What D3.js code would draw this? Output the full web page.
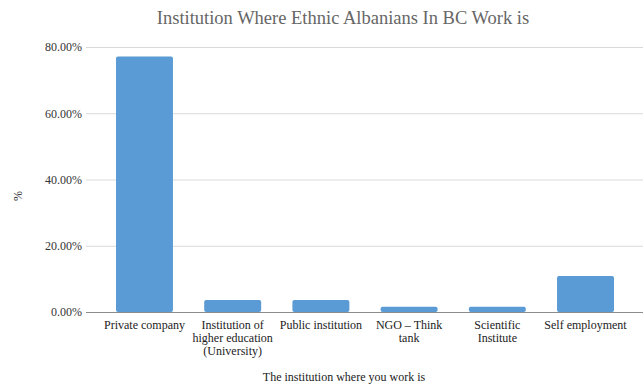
<!DOCTYPE html>
<html>
<head>
<meta charset="utf-8">
<script src="https://cdn.jsdelivr.net/npm/d3@7"></script>
<style>
  html, body { margin: 0; padding: 0; background: #fff; }
  svg { display: block; }
</style>
</head>
<body>
<svg id="chart" width="643" height="386"></svg>
<script>
// Share of respondents by type of workplace
const categories = [
  ["Private company"],
  ["Institution of", "higher education", "(University)"],
  ["Public institution"],
  ["NGO – Think", "tank"],
  ["Scientific", "Institute"],
  ["Self employment"]
];
const values = [0.771, 0.036, 0.036, 0.016, 0.016, 0.109];
const yTicks = [0, 0.2, 0.4, 0.6, 0.8];
const chartTitle = "Institution Where Ethnic Albanians In BC Work is";
const xTitle = "The institution where you work is";
const yTitle = "%";

const SERIF = "'Liberation Serif', 'Times New Roman', Times, 'DejaVu Serif', serif";

const svg = d3.select("#chart");
const W = 643, H = 386;
const m = { left: 86, right: 0, top: 47, bottom: 74 };

const keys = categories.map(c => c.join(" "));

const x = d3.scaleBand()
  .domain(keys)
  .range([m.left, W + 1])
  .paddingInner(0.354)
  .paddingOuter(0.34);

const y = d3.scaleLinear()
  .domain([0, 0.8])
  .range([H - m.bottom, m.top]);

// gridlines and tick labels
const yAxis = d3.axisLeft(y)
  .tickValues(yTicks)
  .tickSize(-(W - m.left))
  .tickPadding(5)
  .tickFormat(d3.format(".2%"));

const gy = svg.append("g")
  .attr("transform", `translate(${m.left},0)`)
  .call(yAxis)
  .attr("font-family", SERIF);
gy.select(".domain").remove();
gy.selectAll(".tick line").attr("stroke", "#d9d9d9").attr("stroke-width", 1);
gy.selectAll(".tick text")
  .style("font-family", SERIF)
  .attr("fill", "#333")
  .attr("font-size", 12)
  .attr("x", -4);

// bars
svg.append("g").selectAll("rect")
  .data(values)
  .join("rect")
  .attr("x", (d, i) => x(keys[i]))
  .attr("width", x.bandwidth())
  .attr("y", d => y(d))
  .attr("height", d => y(0) - y(d))
  .attr("rx", 2)
  .attr("fill", "#5b9bd5");

// baseline
svg.append("line")
  .attr("x1", m.left).attr("x2", W)
  .attr("y1", y(0) + 0.5).attr("y2", y(0) + 0.5)
  .attr("stroke", "#8c8c8c")
  .attr("stroke-width", 1.2);

// category labels
const labels = svg.append("g").selectAll("text")
  .data(categories)
  .join("text")
  .style("font-family", SERIF)
  .attr("x", (d, i) => x(keys[i]) + x.bandwidth() / 2)
  .attr("y", y(0) + 17)
  .attr("text-anchor", "middle")
  .attr("font-size", 12)
  .attr("fill", "#222");
labels.selectAll("tspan")
  .data(d => d)
  .join("tspan")
  .attr("x", function () { return d3.select(this.parentNode).attr("x"); })
  .attr("dy", (d, i) => i === 0 ? 0 : 13)
  .text(d => d);

// titles
svg.append("text")
  .style("font-family", SERIF)
  .attr("x", 343).attr("y", 24)
  .attr("text-anchor", "middle")
  .attr("font-size", 18.5)
  .attr("fill", "#666")
  .text(chartTitle);

svg.append("text")
  .style("font-family", SERIF)
  .attr("x", 344).attr("y", 381)
  .attr("text-anchor", "middle")
  .attr("font-size", 12)
  .attr("fill", "#222")
  .text(xTitle);

svg.append("text")
  .style("font-family", SERIF)
  .attr("transform", `translate(22,196) rotate(-90)`)
  .attr("text-anchor", "middle")
  .attr("font-size", 12)
  .attr("fill", "#222")
  .text(yTitle);
</script>
</body>
</html>
